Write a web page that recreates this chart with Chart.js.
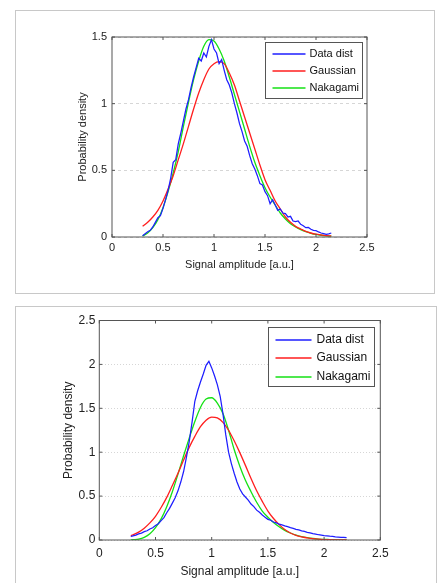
<!DOCTYPE html>
<html>
<head>
<meta charset="utf-8">
<script src="https://cdn.jsdelivr.net/npm/chart.js@4/dist/chart.umd.min.js"></script>
<style>
  body { margin: 0; background: #fff; }
  .panel { position: absolute; border: 1px solid #c8c8c8; box-sizing: border-box; }
  .wrap { position: absolute; }
</style>
</head>
<body>
<div class="panel" style="left:15px; top:10px; width:420px; height:284px;"></div>
<div class="wrap" style="left:16px; top:11px; width:418px; height:282px;"><canvas id="topChart"></canvas></div>
<div class="panel" style="left:15px; top:306px; width:422px; height:290px;"></div>
<div class="wrap" style="left:16px; top:307px; width:420px; height:276px;"><canvas id="bottomChart"></canvas></div>
<script>
// ---- data ----
const seriesLabels = ["Data dist", "Gaussian", "Nakagami"];
const xTicks = [0, 0.5, 1, 1.5, 2, 2.5];
const xTickLabels = ["0", "0.5", "1", "1.5", "2", "2.5"];
const topYTicks = [0, 0.5, 1, 1.5];
const topYTickLabels = ["0", "0.5", "1", "1.5"];
const bottomYTicks = [0, 0.5, 1, 1.5, 2, 2.5];
const bottomYTickLabels = ["0", "0.5", "1", "1.5", "2", "2.5"];

// top panel
const topBlueX = [0.300, 0.325, 0.350, 0.375, 0.400, 0.425, 0.450, 0.475, 0.500, 0.525,
    0.550, 0.575, 0.600, 0.625, 0.650, 0.675, 0.700, 0.725, 0.750, 0.775,
    0.800, 0.825, 0.850, 0.875, 0.900, 0.925, 0.950, 0.975, 1.000, 1.025,
    1.050, 1.075, 1.100, 1.125, 1.150, 1.175, 1.200, 1.225, 1.250, 1.275,
    1.300, 1.325, 1.350, 1.375, 1.400, 1.425, 1.450, 1.475, 1.500, 1.525,
    1.550, 1.575, 1.600, 1.625, 1.650, 1.675, 1.700, 1.725, 1.750, 1.775,
    1.800, 1.825, 1.850, 1.875, 1.900, 1.925, 1.950, 1.975, 2.000, 2.025,
    2.050, 2.075, 2.100, 2.125, 2.150];
const topBlueY = [0.010, 0.025, 0.040, 0.050, 0.075, 0.110, 0.145, 0.160, 0.215, 0.280,
    0.350, 0.440, 0.560, 0.580, 0.700, 0.780, 0.870, 0.960, 1.030, 1.120,
    1.200, 1.270, 1.340, 1.320, 1.380, 1.350, 1.430, 1.480, 1.410, 1.380,
    1.300, 1.330, 1.250, 1.180, 1.140, 1.080, 1.000, 0.930, 0.850, 0.790,
    0.720, 0.680, 0.610, 0.550, 0.510, 0.460, 0.400, 0.390, 0.340, 0.310,
    0.250, 0.280, 0.240, 0.200, 0.210, 0.180, 0.175, 0.150, 0.155, 0.120,
    0.115, 0.120, 0.095, 0.085, 0.070, 0.072, 0.058, 0.050, 0.048, 0.038,
    0.030, 0.026, 0.020, 0.024, 0.030];
const topFitX = [0.30, 0.35, 0.40, 0.45, 0.50, 0.55, 0.60, 0.65, 0.70, 0.75,
    0.80, 0.85, 0.90, 0.95, 1.00, 1.05, 1.10, 1.15, 1.20, 1.25,
    1.30, 1.35, 1.40, 1.45, 1.50, 1.55, 1.60, 1.65, 1.70, 1.75,
    1.80, 1.85, 1.90, 1.95, 2.00, 2.05, 2.10, 2.15];
const topGaussY = [0.08, 0.11, 0.15, 0.20, 0.27, 0.36, 0.46, 0.58, 0.70, 0.83,
    0.96, 1.08, 1.18, 1.26, 1.30, 1.315, 1.30, 1.23, 1.14, 1.02,
    0.90, 0.78, 0.66, 0.54, 0.43, 0.35, 0.27, 0.21, 0.15, 0.11,
    0.08, 0.06, 0.042, 0.03, 0.021, 0.015, 0.01, 0.008];
const topNakaY = [0.008, 0.03, 0.07, 0.13, 0.22, 0.34, 0.48, 0.64, 0.83, 1.01,
    1.18, 1.32, 1.43, 1.48, 1.47, 1.41, 1.32, 1.20, 1.07, 0.94,
    0.81, 0.68, 0.56, 0.46, 0.37, 0.30, 0.24, 0.18, 0.135, 0.10,
    0.075, 0.055, 0.04, 0.028, 0.019, 0.013, 0.009, 0.006];

// bottom panel
const bottomBlueX = [0.280, 0.300, 0.325, 0.350, 0.375, 0.400, 0.425, 0.450, 0.475, 0.500,
    0.525, 0.550, 0.575, 0.600, 0.625, 0.650, 0.675, 0.700, 0.725, 0.750,
    0.775, 0.800, 0.825, 0.850, 0.875, 0.900, 0.925, 0.950, 0.975, 1.000,
    1.025, 1.050, 1.075, 1.100, 1.125, 1.150, 1.175, 1.200, 1.225, 1.250,
    1.275, 1.300, 1.325, 1.350, 1.375, 1.400, 1.425, 1.450, 1.475, 1.500,
    1.525, 1.550, 1.575, 1.600, 1.625, 1.650, 1.675, 1.700, 1.725, 1.750,
    1.775, 1.800, 1.825, 1.850, 1.875, 1.900, 1.925, 1.950, 1.975, 2.000,
    2.025, 2.050, 2.075, 2.100, 2.125, 2.150, 2.175, 2.200];
const bottomBlueY = [0.040, 0.048, 0.055, 0.070, 0.078, 0.095, 0.105, 0.125, 0.140, 0.165,
    0.185, 0.220, 0.255, 0.310, 0.360, 0.420, 0.480, 0.560, 0.660, 0.780,
    0.940, 1.120, 1.340, 1.580, 1.700, 1.800, 1.890, 1.990, 2.035, 1.960,
    1.870, 1.770, 1.640, 1.440, 1.200, 1.000, 0.870, 0.760, 0.660, 0.580,
    0.525, 0.490, 0.455, 0.410, 0.380, 0.340, 0.315, 0.285, 0.260, 0.235,
    0.225, 0.205, 0.195, 0.180, 0.172, 0.160, 0.152, 0.140, 0.132, 0.122,
    0.115, 0.104, 0.098, 0.088, 0.082, 0.073, 0.068, 0.060, 0.056, 0.050,
    0.048, 0.043, 0.040, 0.036, 0.034, 0.031, 0.029, 0.026];
const bottomFitX = [0.28, 0.30, 0.35, 0.40, 0.45, 0.50, 0.55, 0.60, 0.65, 0.70,
    0.75, 0.80, 0.85, 0.90, 0.95, 1.00, 1.05, 1.10, 1.15, 1.20,
    1.25, 1.30, 1.35, 1.40, 1.45, 1.50, 1.55, 1.60, 1.65, 1.70,
    1.75, 1.80, 1.85, 1.90, 1.95, 2.00, 2.05, 2.10, 2.15, 2.20];
const bottomGaussY = [0.05, 0.06, 0.09, 0.135, 0.195, 0.27, 0.37, 0.485, 0.62, 0.76,
    0.91, 1.055, 1.18, 1.29, 1.365, 1.40, 1.39, 1.34, 1.25, 1.13,
    0.995, 0.85, 0.70, 0.56, 0.44, 0.33, 0.245, 0.175, 0.12, 0.08,
    0.052, 0.035, 0.024, 0.015, 0.009, 0.005, 0.003, 0.002, 0.001, 0.0005];
const bottomNakaY = [0.0, 0.003, 0.01, 0.03, 0.07, 0.14, 0.24, 0.38, 0.55, 0.75,
    0.96, 1.16, 1.35, 1.51, 1.605, 1.62, 1.56, 1.44, 1.25, 1.03,
    0.84, 0.68, 0.55, 0.43, 0.33, 0.26, 0.20, 0.15, 0.11, 0.08,
    0.055, 0.038, 0.026, 0.017, 0.011, 0.007, 0.005, 0.003, 0.002, 0.001];

const lineColors = ["rgb(30,30,255)", "rgb(255,30,30)", "rgb(20,225,20)"];

function points(xs, ys) {
    return xs.map((x, i) => ({ x: x, y: ys[i] }));
}

// axes frame with inward ticks, matlab style
const axesBox = {
    id: "axesBox",
    afterDatasetsDraw(chart) {
        const { ctx, chartArea: a, scales } = chart;
        const tl = 3;
        ctx.save();
        ctx.strokeStyle = "#555";
        ctx.lineWidth = 1;
        ctx.strokeRect(a.left, a.top, a.width, a.height);
        ctx.beginPath();
        scales.x.ticks.forEach(t => {
            const px = scales.x.getPixelForValue(t.value);
            ctx.moveTo(px, a.bottom); ctx.lineTo(px, a.bottom - tl);
            ctx.moveTo(px, a.top); ctx.lineTo(px, a.top + tl);
        });
        scales.y.ticks.forEach(t => {
            const py = scales.y.getPixelForValue(t.value);
            ctx.moveTo(a.left, py); ctx.lineTo(a.left + tl, py);
            ctx.moveTo(a.right, py); ctx.lineTo(a.right - tl, py);
        });
        ctx.stroke();
        ctx.restore();
    }
};

// legend box inside the axes, top right
const boxLegend = {
    id: "boxLegend",
    afterDraw(chart, args, o) {
        const { ctx, chartArea } = chart;
        const x = Math.round(chartArea.right - o.right - o.width) + 0.5;
        const y = Math.round(chartArea.top + o.top) + 0.5;
        ctx.save();
        ctx.fillStyle = "#fff";
        ctx.fillRect(x, y, o.width, o.height);
        ctx.strokeStyle = "#555";
        ctx.lineWidth = 1;
        ctx.strokeRect(x, y, o.width, o.height);
        ctx.font = o.font;
        ctx.textBaseline = "middle";
        chart.data.datasets.forEach((ds, i) => {
            const cy = Math.round(y + o.firstRow + i * o.rowGap);
            ctx.strokeStyle = lineColors[i];
            ctx.lineWidth = 1.5;
            ctx.beginPath();
            ctx.moveTo(x + o.lineStart, cy);
            ctx.lineTo(x + o.lineStart + o.lineLen, cy);
            ctx.stroke();
            ctx.fillStyle = "#111";
            ctx.fillText(ds.label, x + o.textStart, cy);
        });
        ctx.restore();
    }
};

function makeChart(id, blue, gauss, naka, yTicks, yLabels, yMax, s) {
    const ctx = document.getElementById(id).getContext("2d");
    return new Chart(ctx, {
        type: "line",
        data: {
            datasets: [
                { label: seriesLabels[0], data: blue, borderColor: lineColors[0], borderWidth: 1.25, pointRadius: 0, tension: 0 },
                { label: seriesLabels[1], data: gauss, borderColor: lineColors[1], borderWidth: 1.3, pointRadius: 0, cubicInterpolationMode: "monotone" },
                { label: seriesLabels[2], data: naka, borderColor: lineColors[2], borderWidth: 1.3, pointRadius: 0, cubicInterpolationMode: "monotone" }
            ]
        },
        options: {
            responsive: true,
            maintainAspectRatio: false,
            animation: false,
            layout: { padding: { left: 0, top: s.top, right: s.right, bottom: 0 } },
            plugins: {
                legend: { display: false },
                tooltip: { enabled: false },
                boxLegend: s.legend
            },
            scales: {
                x: {
                    type: "linear",
                    min: 0,
                    max: 2.5,
                    afterBuildTicks: sc => { sc.ticks = xTicks.map(v => ({ value: v })); },
                    afterFit: sc => { sc.height = s.xHeight; },
                    grid: { display: false, drawTicks: false },
                    border: { display: false },
                    ticks: {
                        padding: s.xPad, color: "#222", font: { size: s.font }, maxRotation: 0,
                        callback: (v, i) => xTickLabels[i]
                    },
                    title: { display: true, text: "Signal amplitude [a.u.]", color: "#222", font: { size: s.font }, padding: { top: 0, bottom: s.xTitlePad } }
                },
                y: {
                    type: "linear",
                    min: 0,
                    max: yMax,
                    afterBuildTicks: sc => { sc.ticks = yTicks.map(v => ({ value: v })); },
                    afterFit: sc => { sc.width = s.yWidth; },
                    grid: { color: "#d6d6d6", lineWidth: 1, drawTicks: false },
                    border: { display: false, dash: s.dash },
                    ticks: {
                        padding: s.yPad, color: "#222", font: { size: s.font },
                        callback: (v, i) => yLabels[i]
                    },
                    title: { display: true, text: "Probability density", color: "#222", font: { size: s.font }, padding: { top: s.yTitlePad, bottom: 0 } }
                }
            }
        },
        plugins: [axesBox, boxLegend]
    });
}

document.addEventListener("DOMContentLoaded", function () {
    Chart.defaults.font.family = "'Liberation Sans', Arial, sans-serif";

    makeChart("topChart",
        points(topBlueX, topBlueY), points(topFitX, topGaussY), points(topFitX, topNakaY),
        topYTicks, topYTickLabels, 1.5,
        {
            top: 26, right: 67, xHeight: 56, yWidth: 96, font: 11,
            xPad: 4, yPad: 5, xTitlePad: 21, yTitlePad: 60, dash: [3, 3],
            legend: { right: 5, top: 5, width: 97, height: 56, firstRow: 11.5, rowGap: 17,
                      lineStart: 7, lineLen: 33, textStart: 44, font: "11px 'Liberation Sans', Arial, sans-serif" }
        });

    makeChart("bottomChart",
        points(bottomBlueX, bottomBlueY), points(bottomFitX, bottomGaussY), points(bottomFitX, bottomNakaY),
        bottomYTicks, bottomYTickLabels, 2.5,
        {
            top: 13.5, right: 55.7, xHeight: 43, yWidth: 83.3, font: 12,
            xPad: 6, yPad: 4, xTitlePad: 4, yTitlePad: 45, dash: [1, 2],
            legend: { right: 6, top: 6.5, width: 106, height: 59, firstRow: 12, rowGap: 18.5,
                      lineStart: 7, lineLen: 36, textStart: 48, font: "12px 'Liberation Sans', Arial, sans-serif" }
        });
});
</script>
</body>
</html>
